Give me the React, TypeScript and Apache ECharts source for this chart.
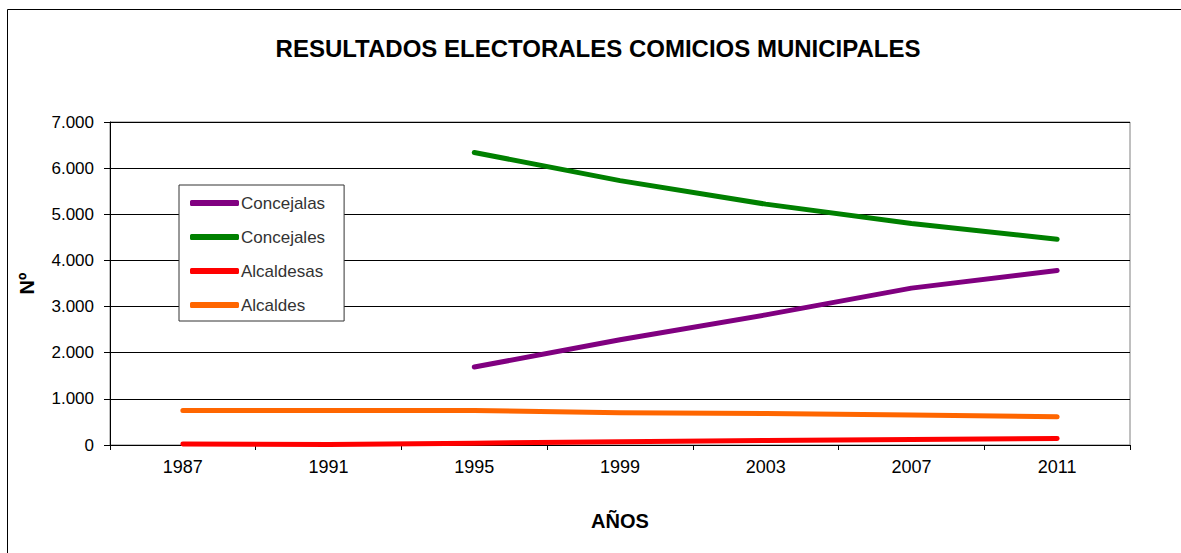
import React, { useEffect, useRef } from "react";
import * as echarts from "echarts";

const years = ["1987", "1991", "1995", "1999", "2003", "2007", "2011"];
const concejalas = [null, null, 1690, 2280, 2820, 3400, 3780];
const concejales = [null, null, 6340, 5730, 5220, 4800, 4460];
const alcaldesas = [20, 10, 40, 70, 100, 120, 140];
const alcaldes = [750, 750, 750, 700, 680, 650, 610];

const FONT = "Liberation Sans, Arial, sans-serif";

function fmt(v: number): string {
  return String(v).replace(/\B(?=(\d{3})+(?!\d))/g, ".");
}

export default function App() {
  const ref = useRef<HTMLDivElement>(null);
  useEffect(() => {
    if (!ref.current) return;
    const chart = echarts.init(ref.current, undefined, { renderer: "svg" });
    const mk = (name: string, data: (number | null)[], color: string) => ({
      name,
      type: "line",
      data,
      symbol: "none",
      connectNulls: false,
      lineStyle: { color, width: 5, cap: "round", join: "round" },
      itemStyle: { color },
    });
    chart.setOption({
      animation: false,
      backgroundColor: "#fff",
      title: {
        text: "RESULTADOS ELECTORALES COMICIOS MUNICIPALES",
        left: 593,
        textAlign: "center",
        top: 31,
        textStyle: { fontFamily: FONT, fontSize: 24, fontWeight: "bold", color: "#000" },
      },
      graphic: [
        {
          type: "rect",
          shape: { x: 7.5, y: 9.5, width: 1300, height: 700 },
          style: { fill: "none", stroke: "#000", lineWidth: 1 },
          silent: true,
          z: -1,
        },
      ],
      legend: {
        orient: "vertical",
        left: 179,
        top: 185,
        data: ["Concejalas", "Concejales", "Alcaldesas", "Alcaldes"],
        icon: "roundRect",
        itemWidth: 49,
        itemHeight: 6,
        itemGap: 16,
        padding: [9, 19, 7, 11],
        borderColor: "#333",
        borderWidth: 1,
        backgroundColor: "#fff",
        textStyle: { fontFamily: FONT, fontSize: 17, color: "#333", lineHeight: 18, padding: [0, 0, 0, -3] },
      },
      grid: {
        left: 110,
        right: 51,
        top: 122,
        bottom: 108,
        show: true,
        borderColor: "#808080",
        borderWidth: 1,
        containLabel: false,
      },
      xAxis: {
        type: "category",
        data: years,
        boundaryGap: true,
        name: "AÑOS",
        nameLocation: "middle",
        nameGap: 66,
        nameTextStyle: { fontFamily: FONT, fontSize: 20, fontWeight: "bold", color: "#000" },
        axisLine: { lineStyle: { color: "#000", width: 1 } },
        axisTick: { show: true, length: 5, lineStyle: { color: "#000" } },
        axisLabel: { fontFamily: FONT, fontSize: 18, color: "#000", margin: 13 },
        splitLine: { show: false },
      },
      yAxis: {
        type: "value",
        min: 0,
        max: 7000,
        interval: 1000,
        name: "Nº",
        nameLocation: "middle",
        nameRotate: 90,
        nameGap: 73,
        nameTextStyle: { fontFamily: FONT, fontSize: 20, fontWeight: "bold", color: "#000" },
        axisLine: { show: true, lineStyle: { color: "#000", width: 1 } },
        axisTick: { show: true, length: 6, lineStyle: { color: "#000" } },
        axisLabel: { fontFamily: FONT, fontSize: 17, color: "#000", margin: 16, formatter: (v: number) => fmt(v) },
        splitLine: { show: true, lineStyle: { color: "#000", width: 1 } },
      },
      series: [
        mk("Concejalas", concejalas, "#800080"),
        mk("Concejales", concejales, "#008000"),
        mk("Alcaldesas", alcaldesas, "#FF0000"),
        mk("Alcaldes", alcaldes, "#FF6600"),
      ],
    });
    return () => chart.dispose();
  }, []);
  return (
    <div
      ref={ref}
      style={{ position: "fixed", left: 0, top: 0, width: 1181, height: 553 }}
    />
  );
}
